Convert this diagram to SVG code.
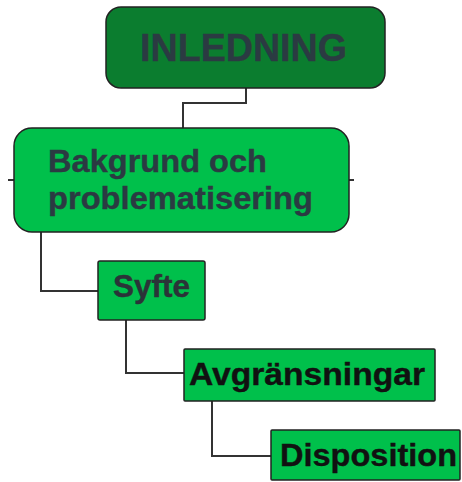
<svg xmlns="http://www.w3.org/2000/svg" width="462" height="482" viewBox="0 0 462 482">
<style>
.box{stroke:#222;stroke-width:1.5}
.t{font-family:"Liberation Sans",Arial,sans-serif;font-weight:bold;font-size:32px;stroke-width:0.4}
.c{fill:none;stroke:#333;stroke-width:2}
</style>
<rect width="462" height="482" fill="#fff"/>
<g id="connectors">
<polyline class="c" points="246,88 246,103 183,103 183,128"/>
<polyline class="c" points="41,232 41,291 98,291"/>
<polyline class="c" points="126,320 126,373 184,373"/>
<polyline class="c" points="212,401 212,456 271,456"/>
<line class="c" x1="8" y1="180" x2="14" y2="180"/>
<line class="c" x1="349" y1="180" x2="354" y2="180"/>
</g>
<g id="inledning">
<rect class="box" x="106" y="7" width="279" height="81" rx="15" fill="#0b7d2f"/>
<text class="t" x="140" y="61" fill="#2b3a42" stroke="#2b3a42" textLength="207" lengthAdjust="spacingAndGlyphs" style="font-size:38px">INLEDNING</text>
</g>
<g id="bakgrund">
<rect class="box" x="14" y="128" width="335" height="104" rx="18" fill="#00c04b"/>
<text class="t" x="48" y="172" fill="#2b3a42" stroke="#2b3a42" textLength="219" lengthAdjust="spacingAndGlyphs">Bakgrund och</text>
<text class="t" x="48" y="209" fill="#2b3a42" stroke="#2b3a42" textLength="265" lengthAdjust="spacingAndGlyphs">problematisering</text>
</g>
<g id="syfte">
<rect class="box" x="98" y="261" width="107" height="59" rx="2" fill="#00c04b"/>
<text class="t" x="113" y="297" fill="#2b3338" stroke="#2b3338" textLength="77" lengthAdjust="spacingAndGlyphs">Syfte</text>
</g>
<g id="avgransningar">
<rect class="box" x="184" y="349" width="251" height="52" rx="1" fill="#00c04b"/>
<text class="t" x="189" y="385" fill="#111" stroke="#111" textLength="236" lengthAdjust="spacingAndGlyphs">Avgränsningar</text>
</g>
<g id="disposition">
<rect class="box" x="271" y="430" width="189" height="50" rx="1" fill="#00c04b"/>
<text class="t" x="280" y="466" fill="#111" stroke="#111" textLength="177" lengthAdjust="spacingAndGlyphs">Disposition</text>
</g>
</svg>
